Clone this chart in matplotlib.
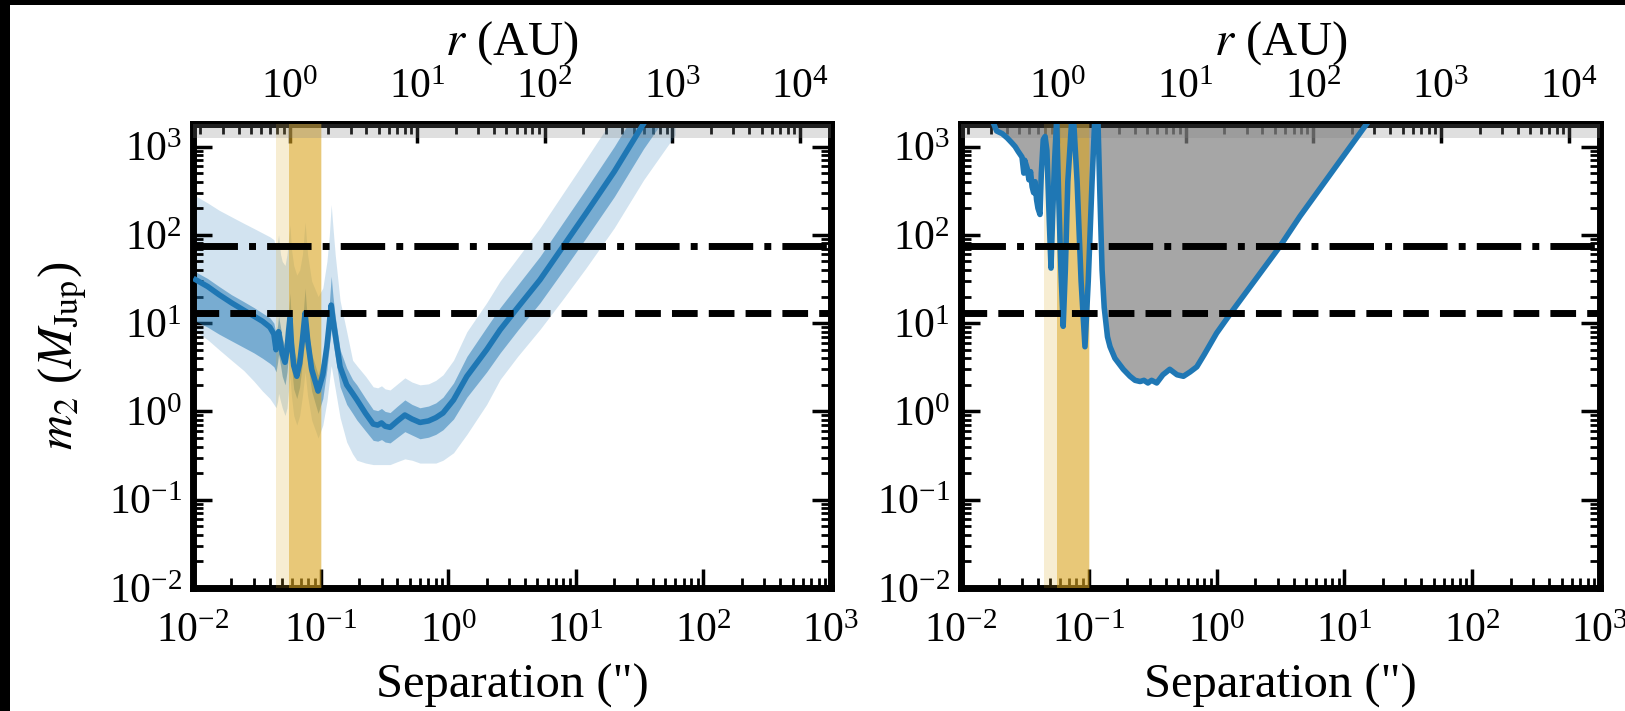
import numpy as np
import matplotlib
matplotlib.use("Agg")
import matplotlib.pyplot as plt
from matplotlib.patches import Rectangle

plt.rcParams['font.family'] = ['Liberation Serif', 'DejaVu Serif']
plt.rcParams['mathtext.fontset'] = 'stix'

# distance (pc) used for the r (AU) axis
dist_pc = 17.5
m_star = 1257.0      # host mass in M_Jup (gray strip at the top)
m_hburn = 75.0
m_dburn = 13.0
sep_lims = (1e-2, 1e3)
mass_lims = (1e-2, 1800.0)
band_light = (0.045, 0.102)
band_dark = (0.056, 0.100)

# left panel: median sensitivity and 1/2 sigma envelopes
sep_l = [0.0105, 0.013, 0.016, 0.02, 0.025, 0.03, 0.035, 0.04, 0.043,
         0.0447, 0.046, 0.0468, 0.0485, 0.05, 0.0526, 0.0545, 0.056, 0.0575, 0.059,
         0.0615, 0.065, 0.0685, 0.072, 0.0755, 0.079, 0.085, 0.0955, 0.104, 0.112,
         0.117, 0.121, 0.125, 0.13, 0.142, 0.16, 0.178, 0.192, 0.225, 0.258,
         0.28, 0.30, 0.32, 0.35, 0.40, 0.457, 0.52, 0.60, 0.70, 0.80,
         0.91, 1.1, 1.4, 2.0, 2.55, 3.5, 5.24, 8, 12, 20, 34, 60]
med_l = [31, 26, 21, 17, 14, 12, 10.5, 9, 7.5,
         5, 6.5, 8, 6, 4.5, 3.6, 5, 8, 11.5, 6,
         3.3, 2.5, 3.5, 6.5, 13, 6.5, 3, 1.7, 2.6, 5.5,
         10, 16, 11, 7.5, 3.2, 2.0, 1.6, 1.36, 0.95, 0.72,
         0.70, 0.74, 0.68, 0.66, 0.78, 0.91, 0.82, 0.75, 0.78, 0.85,
         0.96, 1.35, 2.5, 5, 8.4, 15, 31, 75, 175, 520, 1820, 6000]
hi1_l = [38, 32, 26, 21, 17.5, 15, 13, 11.5, 10,
         7.5, 9.5, 12, 9, 6.8, 5.4, 7.5, 13, 22, 10,
         5, 3.8, 5.3, 10, 25, 10, 4.5, 2.6, 4, 9,
         17, 34, 20, 12, 5, 3.1, 2.3, 2.0, 1.4, 1.05,
         1.02, 1.08, 1.0, 0.97, 1.15, 1.35, 1.2, 1.1, 1.15, 1.25,
         1.45, 2.1, 4.2, 9, 15, 27, 57, 140, 330, 1000, 3500, 11500]
lo1_l = [10.5, 9, 7.5, 6.3, 5.3, 4.6, 4, 3.5, 3.2,
         2.8, 3.6, 4.4, 3.3, 2.5, 2, 2.8, 4.4, 6.4, 3.3,
         1.8, 1.4, 1.9, 3.6, 7.2, 3.6, 1.7, 0.95, 1.4, 3,
         5.5, 8.5, 6, 4.2, 1.9, 1.2, 0.95, 0.8, 0.6, 0.47,
         0.46, 0.48, 0.45, 0.44, 0.51, 0.59, 0.54, 0.49, 0.51, 0.55,
         0.62, 0.82, 1.45, 2.8, 4.6, 8.3, 17, 40, 92, 270, 950, 3100]
hi2_l = [275, 230, 190, 160, 135, 118, 105, 95, 88,
         70, 85, 100, 60, 50, 45, 60, 90, 130, 70,
         45, 35, 40, 60, 140, 60, 30, 20, 25, 50,
         100, 220, 120, 60, 18, 8, 3.8, 3.3, 2.5, 1.9,
         1.85, 1.95, 1.8, 1.75, 2.05, 2.4, 2.15, 2.0, 2.05, 2.25,
         2.6, 3.8, 8, 17, 30, 55, 120, 300, 720, 2200, 8000, 26000]
lo2_l = [8, 6.5, 5, 3.8, 2.9, 2.2, 1.7, 1.4, 1.2,
         1.1, 1.3, 1.6, 1.3, 1.1, 0.9, 1.1, 1.7, 2.5, 1.5,
         0.9, 0.7, 0.9, 1.5, 2.8, 1.5, 0.8, 0.5, 0.7, 1.3,
         2.2, 3.3, 2.5, 1.8, 0.85, 0.45, 0.33, 0.28, 0.26, 0.25,
         0.25, 0.25, 0.25, 0.25, 0.27, 0.29, 0.28, 0.26, 0.26, 0.26,
         0.28, 0.34, 0.55, 1.2, 2.3, 4.2, 8.5, 19, 42, 120, 420, 1350]

# right panel: limit curve
sep_r = [0.0175, 0.019, 0.021, 0.023, 0.025, 0.0265, 0.028, 0.030, 0.031, 0.0315,
         0.033, 0.034, 0.035, 0.036, 0.037, 0.038, 0.039, 0.040, 0.0415, 0.0425,
         0.044, 0.0455, 0.047, 0.049, 0.0506, 0.052, 0.054, 0.056, 0.058, 0.0605,
         0.063, 0.0655, 0.0685, 0.0748, 0.081, 0.087, 0.0933, 0.099, 0.106, 0.112,
         0.117, 0.122, 0.127, 0.132, 0.14, 0.1466, 0.16, 0.186, 0.21, 0.23,
         0.252, 0.27, 0.29, 0.31, 0.34, 0.38, 0.43, 0.49, 0.55, 0.62,
         0.70, 0.80, 1.0, 1.35, 3.13, 4.49, 15, 25]
lim_r = [2000, 1500, 1400, 1250, 1100, 1000, 880, 760, 500, 700,
         560, 420, 520, 350, 300, 400, 250, 200, 170, 500,
         1200, 1300, 900, 150, 42, 150, 700, 2000, 300, 40,
         9.2, 40, 400, 3000, 400, 30, 5.4, 30, 400, 2500,
         3000, 300, 40, 15, 7, 5.4, 4, 3.0, 2.5, 2.25,
         2.18, 2.25, 2.1, 2.25, 2.1, 2.6, 3.0, 2.6, 2.5, 2.8,
         3.2, 4.4, 7.7, 14.2, 74, 162, 1820, 5000]

blue = '#1f77b4'
gold = '#daa520'

fig = plt.figure(figsize=(16.25, 7.11), dpi=100, facecolor='white')
ax1 = fig.add_axes([0.1188, 0.173, 0.3926, 0.6526])
ax2 = fig.add_axes([0.5914, 0.173, 0.3932, 0.6526])


def style(ax):
    ax.set_xscale('log')
    ax.set_yscale('log')
    ax.set_xlim(*sep_lims)
    ax.set_ylim(*mass_lims)
    ax.axhspan(m_star, mass_lims[1], color='gray', alpha=0.25, lw=0, zorder=4)
    ax.axvspan(*band_light, color=gold, alpha=0.2, lw=0, zorder=3)
    ax.axvspan(*band_dark, color=gold, alpha=0.5, lw=0, zorder=3)
    ax.axhline(m_hburn, color='k', ls='-.', lw=5, zorder=6)
    ax.axhline(m_dburn, color='k', ls='--', lw=5, zorder=6)
    for s in ax.spines.values():
        s.set_linewidth(5)
    ax.tick_params(which='both', direction='in', top=False, right=True,
                   labelsize=30, width=2.5)
    ax.tick_params(which='major', length=14)
    ax.tick_params(which='minor', length=7, width=2)
    ax.tick_params(axis='x', pad=18)
    ax.tick_params(axis='y', pad=8)
    ax.set_xticks([1e-2, 1e-1, 1e0, 1e1, 1e2, 1e3])
    ax.set_yticks([1e-2, 1e-1, 1e0, 1e1, 1e2, 1e3])
    ax.set_xlabel("Separation (\")", fontsize=35, labelpad=9)
    sec = ax.secondary_xaxis('top', functions=(lambda s: s * dist_pc,
                                               lambda r: r / dist_pc))
    sec.set_xticks([1e0, 1e1, 1e2, 1e3, 1e4])
    sec.tick_params(which='both', direction='in', labelsize=30, width=2.5, pad=12)
    sec.tick_params(which='major', length=14)
    sec.tick_params(which='minor', length=7, width=2)
    sec.spines['top'].set_linewidth(5)
    sec.set_xlabel("$r$ (AU)", fontsize=35, labelpad=10)


style(ax1)
style(ax2)

ax1.fill_between(sep_l, lo2_l, hi2_l, color=blue, alpha=0.2, lw=0, zorder=1)
ax1.fill_between(sep_l, lo1_l, hi1_l, color=blue, alpha=0.5, lw=0, zorder=2)
ax1.plot(sep_l, med_l, color=blue, lw=4, zorder=5)
ax1.set_ylabel(r"$m_2$ ($M_{\rm Jup}$)", fontsize=35, labelpad=14)

ax2.fill_between(sep_r, lim_r, mass_lims[1] * 10, color='gray', alpha=0.7, lw=0, zorder=1)
ax2.plot(sep_r, lim_r, color=blue, lw=4, zorder=5)

# dark strips along the top and left edge of the original image
fig.add_artist(Rectangle((0, 1 - 5 / 711), 1, 5 / 711, transform=fig.transFigure,
                         color='black', lw=0))
fig.add_artist(Rectangle((0, 0), 10 / 1625, 1, transform=fig.transFigure,
                         color='black', lw=0))

fig.savefig('out.png', dpi=100, facecolor='white')
